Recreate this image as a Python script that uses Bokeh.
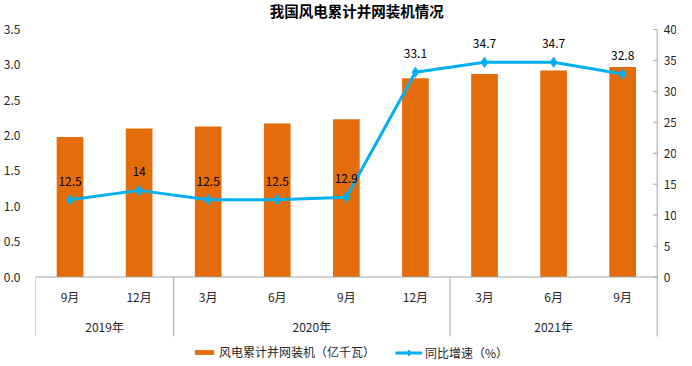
import math
from bokeh.plotting import figure
from bokeh.models import (Range1d, FixedTicker, Legend, LegendItem,
                          ColumnDataSource, NumeralTickFormatter)
from bokeh.core.properties import value
from bokeh.embed import file_html
from bokeh.resources import INLINE

# ---------------- data ----------------
years = ["2019年", "2020年", "2021年"]
year_counts = [2, 4, 3]
months = ["9月", "12月", "3月", "6月", "9月", "12月", "3月", "6月", "9月"]
capacity = [1.98, 2.10, 2.13, 2.17, 2.23, 2.81, 2.87, 2.92, 2.97]   # 亿千瓦
growth = [12.5, 14, 12.5, 12.5, 12.9, 33.1, 34.7, 34.7, 32.8]        # %
growth_labels = ["12.5", "14", "12.5", "12.5", "12.9", "33.1", "34.7", "34.7", "32.8"]
left_ticks = [0.0, 0.5, 1.0, 1.5, 2.0, 2.5, 3.0, 3.5]
right_ticks = [0, 5, 10, 15, 20, 25, 30, 35, 40]
right_labels = ["0", "5", "10", "15", "20", "25", "30", "35", "40"]
title_text = "我国风电累计并网装机情况"
bar_name = "风电累计并网装机（亿千瓦）"
line_name = "同比增速（%）"

# ---------------- style / layout ----------------
FONT = "Noto Sans CJK SC"
BAR_COLOR = "#E46C0A"
LINE_COLOR = "#00B0F0"
AXIS_COLOR = "#A6A6A6"
TEXT_COLOR = "#262626"
W, H = 676, 366
LEFT_PX = 27        # left border (axis labels)
CAT_PX = 69.94      # width of one category in pixels
TOP_PX = 247.5      # pixels from zero line to top tick
ABOVE_PX = 29       # pixels above the top tick (title area)
BELOW_PX = H - ABOVE_PX - TOP_PX   # pixels below zero line
SEP_PX = 59.5       # length of the group separators below zero

n = len(months)
xs = [i + 0.5 for i in range(n)]
left_max = left_ticks[-1]
right_max = right_ticks[-1]


def rng(vmax):
    u = vmax / TOP_PX
    return Range1d(-BELOW_PX * u, vmax + ABOVE_PX * u)


p = figure(width=W, height=H,
           x_range=Range1d(0, (W - LEFT_PX) / CAT_PX), y_range=rng(left_max),
           x_axis_location=None,
           output_backend="svg", toolbar_location=None,
           min_border_left=LEFT_PX, min_border_right=0,
           min_border_top=0, min_border_bottom=0,
           outline_line_color=None, background_fill_color="white",
           border_fill_color="white")
p.xgrid.visible = False
p.ygrid.visible = False
p.extra_y_ranges = {"pct": rng(right_max)}

# left axis
ya = p.yaxis[0]
ya.ticker = FixedTicker(ticks=left_ticks)
ya.formatter = NumeralTickFormatter(format="0.0")
ya.axis_line_color = None
ya.major_tick_line_color = None
ya.minor_tick_line_color = None
ya.major_label_standoff = 9
ya.major_label_text_font = FONT
ya.major_label_text_font_size = "12px"
ya.major_label_text_color = TEXT_COLOR

# bars
src = ColumnDataSource(dict(x=xs, cap=capacity, g=growth, gl=growth_labels, m=months))
bars = p.vbar(x="x", top="cap", width=0.386, source=src,
              fill_color=BAR_COLOR, line_color=None)

# category axis line, group separators, right value axis
ysep = -left_max * SEP_PX / TOP_PX
bounds = [0]
for c in year_counts:
    bounds.append(bounds[-1] + c)
p.segment(x0=[0], y0=[0], x1=[n], y1=[0], line_color=AXIS_COLOR, line_width=1)
p.segment(x0=bounds, y0=[0] * len(bounds), x1=bounds, y1=[ysep] * len(bounds),
          line_color=AXIS_COLOR, line_width=1)
p.segment(x0=[n], y0=[left_max], x1=[n], y1=[0], line_color=AXIS_COLOR, line_width=1)
p.ray(x=[n] * len(right_ticks), y=right_ticks, y_range_name="pct", length=4,
      length_units="screen", angle=math.pi, line_color=AXIS_COLOR, line_width=1)
p.text(x=[n] * len(right_ticks), y=right_ticks, text=right_labels, y_range_name="pct",
       x_offset=6.5, text_align="left", text_baseline="middle",
       text_font=value(FONT), text_font_size="12px", text_color=TEXT_COLOR)

# month labels
p.text(x="x", y=0, text="m", source=src, y_offset=19.5,
       text_align="center", text_baseline="middle",
       text_font=value(FONT), text_font_size="12px", text_color=TEXT_COLOR)
# year labels
year_centers = [(bounds[i] + bounds[i + 1]) / 2 for i in range(len(years))]
p.text(x=year_centers, y=[0] * len(years), text=years, y_offset=49.5,
       text_align="center", text_baseline="middle",
       text_font=value(FONT), text_font_size="12px", text_color=TEXT_COLOR)

# line
line_r = p.line(x="x", y="g", source=src, y_range_name="pct",
                line_color=LINE_COLOR, line_width=3)
pts = p.scatter(x="x", y="g", source=src, y_range_name="pct", marker="diamond",
                size=10, fill_color=LINE_COLOR, line_color=LINE_COLOR)
p.text(x="x", y="g", text="gl", source=src, y_range_name="pct", y_offset=-18.5,
       text_align="center", text_baseline="middle",
       text_font=value(FONT), text_font_size="12px", text_color="#000000")

# title
p.text(x=[n / 2], y=[left_max], text=[title_text], x_offset=10.3, y_offset=-19.5,
       text_align="center", text_baseline="middle",
       text_font=value(FONT), text_font_size="14.5px", text_font_style="bold",
       text_color="#000000")

# legends
common = dict(orientation="horizontal", label_height=12, label_standoff=3,
              padding=0, margin=0, border_line_alpha=0, background_fill_alpha=0,
              label_text_font=FONT, label_text_font_size="12px",
              label_text_color=TEXT_COLOR)
leg1 = Legend(items=[LegendItem(label=bar_name, renderers=[bars])],
              location=(157, 6), glyph_width=24, glyph_height=6, **common)
leg2 = Legend(items=[LegendItem(label=line_name, renderers=[line_r, pts])],
              location=(360, 5), glyph_width=27, glyph_height=15, **common)
p.add_layout(leg1)
p.add_layout(leg2)

open("out.html", "w").write(file_html(p, INLINE))
